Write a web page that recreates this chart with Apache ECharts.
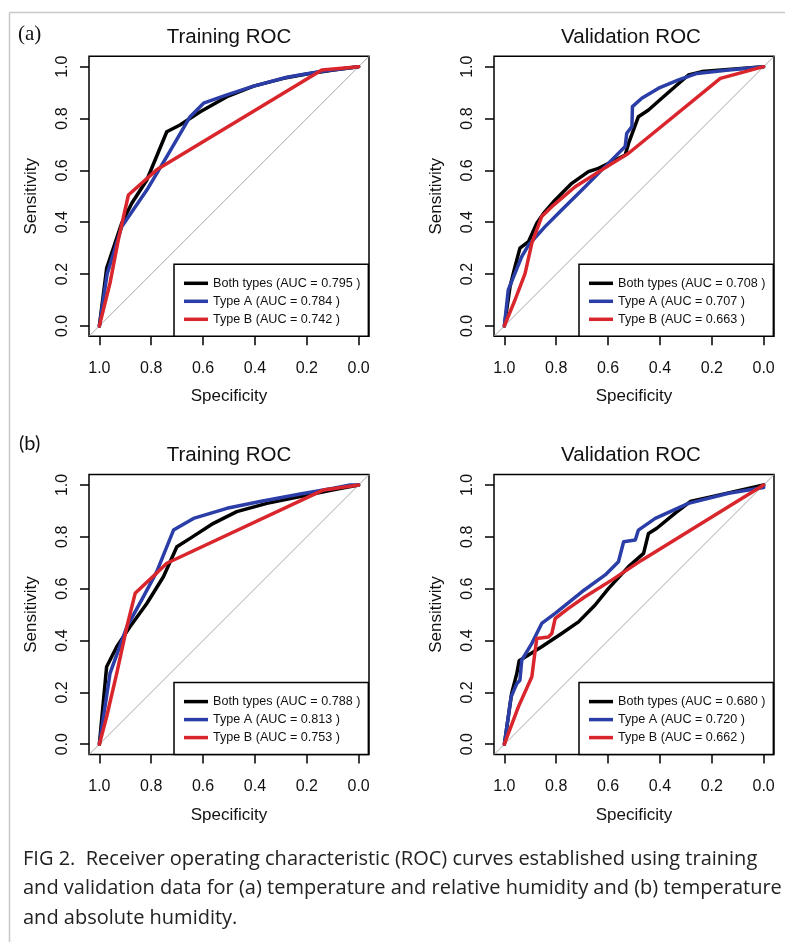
<!DOCTYPE html>
<html><head><meta charset="utf-8">
<script src="https://cdn.jsdelivr.net/npm/echarts@6/dist/echarts.min.js"></script>
<style>html,body{margin:0;padding:0;background:#fff}#c{width:785px;height:942px}</style>
</head><body><div id="c"></div>
<script>
// ---------- DATA ----------
const tickValues = [0, 0.2, 0.4, 0.6, 0.8, 1.0];
const panelTitles = ['Training ROC', 'Validation ROC', 'Training ROC', 'Validation ROC'];
const panelLetters = ['(a)', '(b)'];
const xAxisName = 'Specificity';
const yAxisName = 'Sensitivity';
const chanceLine = [[1.04, -0.04], [-0.04, 1.04]];

const legendATrain = ['Both types (AUC = 0.795 )', 'Type A (AUC = 0.784 )', 'Type B (AUC = 0.742 )'];
const legendAVal   = ['Both types (AUC = 0.708 )', 'Type A (AUC = 0.707 )', 'Type B (AUC = 0.663 )'];
const legendBTrain = ['Both types (AUC = 0.788 )', 'Type A (AUC = 0.813 )', 'Type B (AUC = 0.753 )'];
const legendBVal   = ['Both types (AUC = 0.680 )', 'Type A (AUC = 0.720 )', 'Type B (AUC = 0.662 )'];

// [specificity, sensitivity]
const aTrainBoth = [[1,0],[0.972,0.222],[0.914,0.396],[0.875,0.473],[0.817,0.563],[0.74,0.749],[0.689,0.775],[0.611,0.826],[0.508,0.884],[0.405,0.925],[0.29,0.955],[0.2,0.972],[0.097,0.987],[0,1]];
const aTrainA = [[1,0],[0.97,0.2],[0.914,0.383],[0.817,0.524],[0.74,0.653],[0.65,0.807],[0.598,0.859],[0.508,0.891],[0.405,0.925],[0.277,0.959],[0.148,0.981],[0,1]];
const aTrainB = [[1,0],[0.959,0.165],[0.927,0.332],[0.888,0.505],[0.779,0.602],[0.142,0.987],[0,1]];

const aValBoth = [[1,0],[0.978,0.152],[0.959,0.229],[0.94,0.3],[0.907,0.325],[0.875,0.396],[0.849,0.434],[0.804,0.486],[0.74,0.55],[0.676,0.595],[0.637,0.608],[0.598,0.627],[0.534,0.659],[0.521,0.704],[0.483,0.807],[0.444,0.833],[0.393,0.878],[0.29,0.968],[0.238,0.981],[0,1]];
const aValA = [[1,0],[0.985,0.139],[0.933,0.267],[0.907,0.312],[0.843,0.383],[0.779,0.447],[0.701,0.524],[0.624,0.602],[0.573,0.653],[0.534,0.692],[0.528,0.743],[0.508,0.769],[0.506,0.846],[0.47,0.878],[0.405,0.917],[0.328,0.949],[0.257,0.974],[0.135,0.987],[0,1]];
const aValB = [[1,0],[0.959,0.1],[0.92,0.203],[0.894,0.319],[0.856,0.422],[0.817,0.46],[0.727,0.537],[0.624,0.602],[0.521,0.666],[0.167,0.955],[0,1]];

const bTrainBoth = [[1,0],[0.972,0.299],[0.933,0.376],[0.882,0.453],[0.817,0.543],[0.753,0.646],[0.701,0.762],[0.65,0.794],[0.56,0.852],[0.47,0.897],[0.354,0.929],[0.225,0.955],[0.097,0.981],[0,1]];
const bTrainA = [[1,0],[0.959,0.273],[0.894,0.453],[0.83,0.569],[0.779,0.665],[0.714,0.826],[0.637,0.871],[0.508,0.91],[0.38,0.936],[0.225,0.965],[0.097,0.987],[0.032,1],[0,1]];
const bTrainB = [[1,0],[0.972,0.106],[0.933,0.273],[0.894,0.453],[0.862,0.582],[0.817,0.625],[0.779,0.66],[0.74,0.698],[0.135,0.981],[0,1]];

const bValBoth = [[1,0],[0.972,0.196],[0.952,0.273],[0.943,0.322],[0.907,0.344],[0.856,0.376],[0.779,0.427],[0.714,0.472],[0.65,0.537],[0.598,0.601],[0.521,0.685],[0.463,0.736],[0.444,0.813],[0.412,0.833],[0.341,0.891],[0.283,0.936],[0.2,0.955],[0,1]];
const bValA = [[1,0],[0.974,0.183],[0.952,0.234],[0.94,0.247],[0.933,0.324],[0.894,0.389],[0.856,0.466],[0.804,0.505],[0.701,0.588],[0.611,0.653],[0.56,0.704],[0.54,0.781],[0.495,0.788],[0.483,0.826],[0.418,0.871],[0.29,0.929],[0.135,0.968],[0,0.99],[0,1]];
const bValB = [[1,0],[0.946,0.144],[0.894,0.26],[0.881,0.363],[0.875,0.408],[0.83,0.414],[0.817,0.427],[0.804,0.485],[0.753,0.524],[0.689,0.569],[0.586,0.633],[0.47,0.71],[0,1]];

const captionLines = [
  'FIG 2.  Receiver operating characteristic (ROC) curves established using training',
  'and validation data for (a) temperature and relative humidity and (b) temperature',
  'and absolute humidity.'
];

// ---------- LAYOUT / STYLE ----------
const FONT = '"Liberation Sans", Arial, Helvetica, sans-serif';
const CAPFONT = '"Open Sans", Lato, sans-serif';
const colors = ['#000000', '#2b3ea8', '#d9262c'];
const panels = [
  {left: 89,  top: 56.3,  curves: [aTrainBoth, aTrainA, aTrainB], labels: legendATrain, titleX: 229, titleY: 37},
  {left: 494, top: 56.3,  curves: [aValBoth, aValA, aValB],       labels: legendAVal,   titleX: 631, titleY: 37},
  {left: 89,  top: 474.6, curves: [bTrainBoth, bTrainA, bTrainB], labels: legendBTrain, titleX: 229, titleY: 455},
  {left: 494, top: 474.6, curves: [bValBoth, bValA, bValB],       labels: legendBVal,   titleX: 631, titleY: 455}
];
const PW = 280, PH = 280;

const grid = [], xAxis = [], yAxis = [], series = [], legend = [];
panels.forEach((p, i) => {
  grid.push({left: p.left, top: p.top, width: PW, height: PH, show: true,
    borderColor: '#000', borderWidth: 1.5, backgroundColor: 'transparent', containLabel: false});
  xAxis.push({gridIndex: i, type: 'value', min: -0.04, max: 1.04, inverse: true,
    axisLine: {show: false, onZero: false}, splitLine: {show: false},
    axisTick: {show: true, length: 9, customValues: tickValues, lineStyle: {color: '#000', width: 1.5}},
    axisLabel: {customValues: tickValues, formatter: v => v.toFixed(1), fontSize: 16, margin: 24, color: '#111', fontFamily: FONT},
    name: xAxisName, nameLocation: 'middle', nameGap: 52,
    nameTextStyle: {fontSize: 17, color: '#111', fontFamily: FONT}});
  yAxis.push({gridIndex: i, type: 'value', min: -0.04, max: 1.04,
    axisLine: {show: false, onZero: false}, splitLine: {show: false},
    axisTick: {show: true, length: 9, customValues: tickValues, lineStyle: {color: '#000', width: 1.5}},
    axisLabel: {customValues: tickValues, formatter: v => v.toFixed(1), rotate: 90, fontSize: 16, margin: 18, color: '#111', fontFamily: FONT},
    name: yAxisName, nameLocation: 'middle', nameGap: 49, nameRotate: 90,
    nameTextStyle: {fontSize: 17, color: '#111', fontFamily: FONT}});
  series.push({type: 'line', name: 'chance' + i, xAxisIndex: i, yAxisIndex: i, data: chanceLine,
    symbol: 'none', silent: true, lineStyle: {color: '#a8a8a8', width: 1}, z: 1});
  p.curves.forEach((c, k) => {
    series.push({type: 'line', name: p.labels[k], xAxisIndex: i, yAxisIndex: i, data: c,
      symbol: 'none', color: colors[k], lineStyle: {color: colors[k], width: 3.5, cap: 'round', join: 'round'}, z: 2 + k});
  });
  legend.push({left: p.left + 85, top: p.top + PH - 72, orient: 'vertical', data: p.labels,
    icon: 'rect', itemWidth: 24, itemHeight: 3.5, itemGap: 4, padding: [12, 8, 10, 10],
    borderColor: '#000', borderWidth: 1.5, backgroundColor: '#fff', selectedMode: false,
    textStyle: {fontSize: 12.6, color: '#111', fontFamily: FONT, lineHeight: 14}});
});

const graphic = [
  {type: 'line', shape: {x1: 9.5, y1: 12.5, x2: 785, y2: 12.5}, style: {stroke: '#c8c8c8', lineWidth: 1.5}},
  {type: 'line', shape: {x1: 9.5, y1: 12.5, x2: 9.5, y2: 942}, style: {stroke: '#c8c8c8', lineWidth: 1.5}},
  {type: 'text', x: 18, y: 34, style: {text: panelLetters[0], font: '21px "Liberation Serif", serif', fill: '#111', textVerticalAlign: 'middle'}},
  {type: 'text', x: 19, y: 444, style: {text: panelLetters[1], font: '20px Lato, sans-serif', fill: '#111', textVerticalAlign: 'middle'}}
];
panels.forEach((p, i) => {
  graphic.push({type: 'text', x: p.titleX, y: p.titleY, style: {text: panelTitles[i], font: '20.5px ' + FONT, fill: '#111', textAlign: 'center', textVerticalAlign: 'middle'}});
});
captionLines.forEach((t, i) => {
  graphic.push({type: 'text', x: 23, y: 859 + i * 29.5, style: {text: t, font: '20px ' + CAPFONT, fill: '#222', textVerticalAlign: 'middle'}});
});

const chart = echarts.init(document.getElementById('c'), null, {renderer: 'canvas'});
chart.setOption({animation: false, backgroundColor: '#fff', grid, xAxis, yAxis, series, legend, graphic});
</script></body></html>
